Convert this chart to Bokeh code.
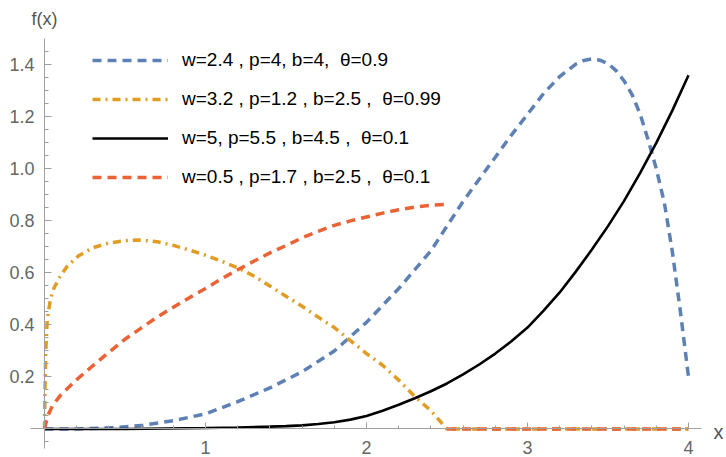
import numpy as np
from bokeh.plotting import figure
from bokeh.models import Range1d, FixedTicker, Legend, LegendItem, Label, PrintfTickFormatter
from bokeh.embed import file_html
from bokeh.resources import INLINE

nan = float("nan")

# ---- data ----
blue_x = [0, 0.2, 0.4, 0.6, 0.8, 1.0, 1.2, 1.4, 1.6, 1.8, 2.0, 2.2, 2.4, 2.5, 2.6, 2.7, 2.8,
          2.9, 3.0, 3.1, 3.2, 3.3, 3.35, 3.4, 3.45, 3.5, 3.55, 3.6, 3.65, 3.7, 3.75, 3.8,
          3.85, 3.9, 3.95, 4.0]
blue_y = [0, 0.0, 0.004, 0.013, 0.032, 0.058, 0.105, 0.158, 0.22, 0.30, 0.41, 0.54, 0.685, 0.78,
          0.875, 0.96, 1.045, 1.13, 1.21, 1.29, 1.355, 1.403, 1.417, 1.423, 1.418, 1.405, 1.378,
          1.338, 1.285, 1.21, 1.11, 1.0, 0.87, 0.68, 0.45, 0.2]

orange_x = [0, 0.003, 0.008, 0.017, 0.037, 0.058, 0.09, 0.14, 0.21, 0.30, 0.40, 0.5, 0.58, 0.7,
            0.8, 0.9, 1.0, 1.1, 1.2, 1.3, 1.4, 1.5, 1.6, 1.7, 1.8, 1.9, 2.0, 2.1, 2.2, 2.3,
            2.4, 2.45, 2.5, 4.0]
orange_y = [0, 0.15, 0.30, 0.42, 0.50, 0.54, 0.58, 0.625, 0.665, 0.697, 0.715, 0.724, 0.727, 0.72,
            0.706, 0.688, 0.668, 0.645, 0.62, 0.588, 0.55, 0.51, 0.472, 0.43, 0.39, 0.34, 0.29,
            0.245, 0.188, 0.125, 0.07, 0.035, 0, 0]

black_x = [0, 0.5, 1.0, 1.2, 1.4, 1.5, 1.6, 1.7, 1.8, 1.9, 2.0, 2.1, 2.2, 2.3, 2.4, 2.5, 2.6,
           2.7, 2.8, 2.9, 3.0, 3.1, 3.2, 3.3, 3.4, 3.5, 3.6, 3.7, 3.8, 3.9, 4.0]
black_y = [0, 0.0, 0.004, 0.006, 0.009, 0.011, 0.014, 0.019, 0.026, 0.036, 0.05, 0.07, 0.093,
           0.118, 0.145, 0.175, 0.21, 0.248, 0.29, 0.337, 0.39, 0.455, 0.525, 0.605, 0.69, 0.78,
           0.877, 0.985, 1.1, 1.225, 1.36]

red_x = [0, 0.02, 0.05, 0.1, 0.2, 0.3, 0.4, 0.5, 0.6, 0.7, 0.8, 0.9, 1.0, 1.1, 1.2, 1.3, 1.4,
         1.5, 1.6, 1.7, 1.8, 1.9, 2.0, 2.1, 2.2, 2.3, 2.4, 2.5, nan, 2.5, 4.0]
red_y = [0, 0.05, 0.09, 0.13, 0.19, 0.243, 0.295, 0.345, 0.388, 0.43, 0.468, 0.505, 0.54, 0.578,
         0.612, 0.645, 0.677, 0.705, 0.735, 0.76, 0.783, 0.80, 0.815, 0.83, 0.843, 0.853, 0.86,
         0.864, nan, 0, 0]

labels = ["w=2.4 , p=4, b=4,  \u03b8=0.9",
          "w=3.2 , p=1.2 , b=2.5 ,  \u03b8=0.99",
          "w=5, p=5.5 , b=4.5 ,  \u03b8=0.1",
          "w=0.5 , p=1.7 , b=2.5 ,  \u03b8=0.1"]

x_ticks = [1, 2, 3, 4]
x_minor = [0.2, 0.4, 0.6, 0.8, 1.2, 1.4, 1.6, 1.8, 2.2, 2.4, 2.6, 2.8, 3.2, 3.4, 3.6, 3.8]
y_ticks = [0.2, 0.4, 0.6, 0.8, 1.0, 1.2, 1.4]
y_minor = [-0.05, 0.05, 0.1, 0.15, 0.25, 0.3, 0.35, 0.45, 0.5, 0.55, 0.65, 0.7, 0.75, 0.85,
           0.9, 0.95, 1.05, 1.1, 1.15, 1.25, 1.3, 1.35, 1.45]

FONT = "Liberation Sans"

p = figure(width=726, height=457, x_range=Range1d(-0.2733, 4.236), y_range=Range1d(-0.1096, 1.6474),
           output_backend="svg", toolbar_location=None,
           min_border_left=0, min_border_right=0, min_border_top=0, min_border_bottom=0)
p.outline_line_color = None
p.grid.visible = False
p.background_fill_color = "white"

for ax in (p.xaxis[0], p.yaxis[0]):
    ax.fixed_location = 0
    ax.axis_line_color = "#a0a0a0"
    ax.major_tick_line_color = "#a0a0a0"
    ax.minor_tick_line_color = "#a0a0a0"
    ax.major_tick_out = 0
    ax.minor_tick_out = 0
    ax.major_label_text_font = FONT
    ax.major_label_text_font_size = "18px"
    ax.major_label_text_color = "#666666"

p.xaxis.bounds = (-0.087, 4.08)
p.yaxis.bounds = (-0.075, 1.5)
p.xaxis.ticker = FixedTicker(ticks=x_ticks, minor_ticks=x_minor)
p.yaxis.ticker = FixedTicker(ticks=y_ticks, minor_ticks=y_minor)
p.yaxis.formatter = PrintfTickFormatter(format="%.1f")
p.xaxis.major_tick_in = 6
p.xaxis.minor_tick_in = 3
p.yaxis.major_tick_in = 7
p.yaxis.minor_tick_in = 4
p.xaxis.major_label_standoff = 12
p.yaxis.major_label_standoff = 10
p.yaxis.major_label_orientation = "horizontal"

r_blue = p.line(blue_x, blue_y, line_color="#5E81B5", line_width=3.5, line_dash="9 6")
r_orange = p.line(orange_x, orange_y, line_color="#E19C24", line_width=3.5, line_dash="8 5 2 5")
r_black = p.line(black_x, black_y, line_color="black", line_width=2.6)
r_red = p.line(red_x, red_y, line_color="#EB6235", line_width=3.5, line_dash="9 6")

legend = Legend(items=[LegendItem(label=labels[0], renderers=[r_blue]),
                       LegendItem(label=labels[1], renderers=[r_orange]),
                       LegendItem(label=labels[2], renderers=[r_black]),
                       LegendItem(label=labels[3], renderers=[r_red])],
                location=(92, 269))
legend.border_line_color = None
legend.background_fill_alpha = 0
legend.padding = 0
legend.margin = 0
legend.spacing = 17
legend.glyph_width = 76
legend.glyph_height = 20
legend.label_height = 20
legend.label_standoff = 14
legend.label_text_font = FONT
legend.label_text_font_size = "19px"
legend.label_text_color = "black"
p.add_layout(legend, "center")

p.add_layout(Label(x=0, y=1.578, text="f(x)", text_align="center", text_baseline="middle",
                   text_font=FONT, text_font_size="18px", text_color="#555555"))
p.add_layout(Label(x=4.186, y=-0.013, text="x", text_align="center", text_baseline="middle",
                   text_font=FONT, text_font_size="20px", text_color="#555555"))

open("out.html", "w").write(file_html(p, INLINE))
